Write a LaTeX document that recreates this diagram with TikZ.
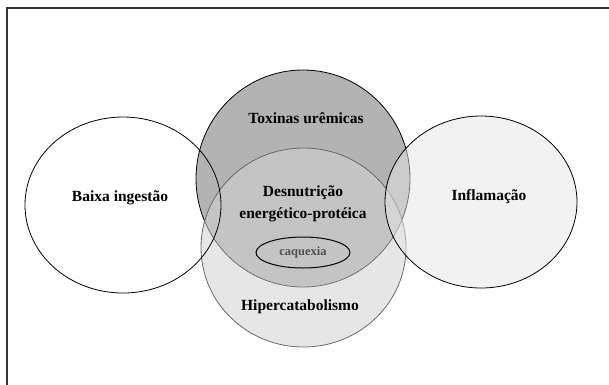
\documentclass[tikz,border=0pt]{standalone}
\usepackage{fontspec}
\setmainfont{Liberation Serif}
\usetikzlibrary{shapes.geometric}
\definecolor{toxgray}{RGB}{179,179,179}
\definecolor{hipgray}{RGB}{210,210,210}
\definecolor{infgray}{RGB}{229,229,229}
\definecolor{hipline}{RGB}{105,105,105}
\definecolor{caqtext}{RGB}{80,80,80}

\begin{document}
\begin{tikzpicture}[x=1pt, y=-1pt,
		set/.style={draw, ellipse, inner sep=0pt, line width=0.8pt},
		lbl/.style={font=\bfseries\fontsize{15.5}{22}\selectfont, align=center, inner sep=0pt}]
		\useasboundingbox (0,0) rectangle (609,384);
		\clip (0,0) rectangle (609,384);
		% frame
		\draw[line width=1.4pt, black!80] (7,8) rectangle (640,420);

		% sets
		\node[set, fill=toxgray, minimum width=214pt, minimum height=217pt] (tox) at (303,178.5) {};
		\node[set, draw=hipline, fill=hipgray, fill opacity=0.55, minimum width=205pt, minimum height=199pt] (hip) at (303.5,247.5) {};
		\node[set, fill=infgray, fill opacity=0.5, minimum width=192pt, minimum height=172pt] (inf) at (481,202) {};
		\node[set, minimum width=196pt, minimum height=176pt] (baixa) at (123,205) {};
		\node[set, line width=1pt, minimum width=94pt, minimum height=31pt] (caq) at (303,252.5) {};

		% texts
		\node[lbl] (toxtxt) at (306,118) {Toxinas urêmicas};
		\node[lbl] (dentxt) at (303,204) {Desnutrição\\energético-protéica};
		\node[lbl, font=\bfseries\fontsize{12.5}{14}\selectfont, text=caqtext] (caqtxt) at (caq) {caquexia};
		\node[lbl] (hiptxt) at (300,307) {Hipercatabolismo};
		\node[lbl] (baixatxt) at (120,198) {Baixa ingestão};
		\node[lbl] (inftxt) at (489,197) {Inflamação};
	\end{tikzpicture}
\end{document}
